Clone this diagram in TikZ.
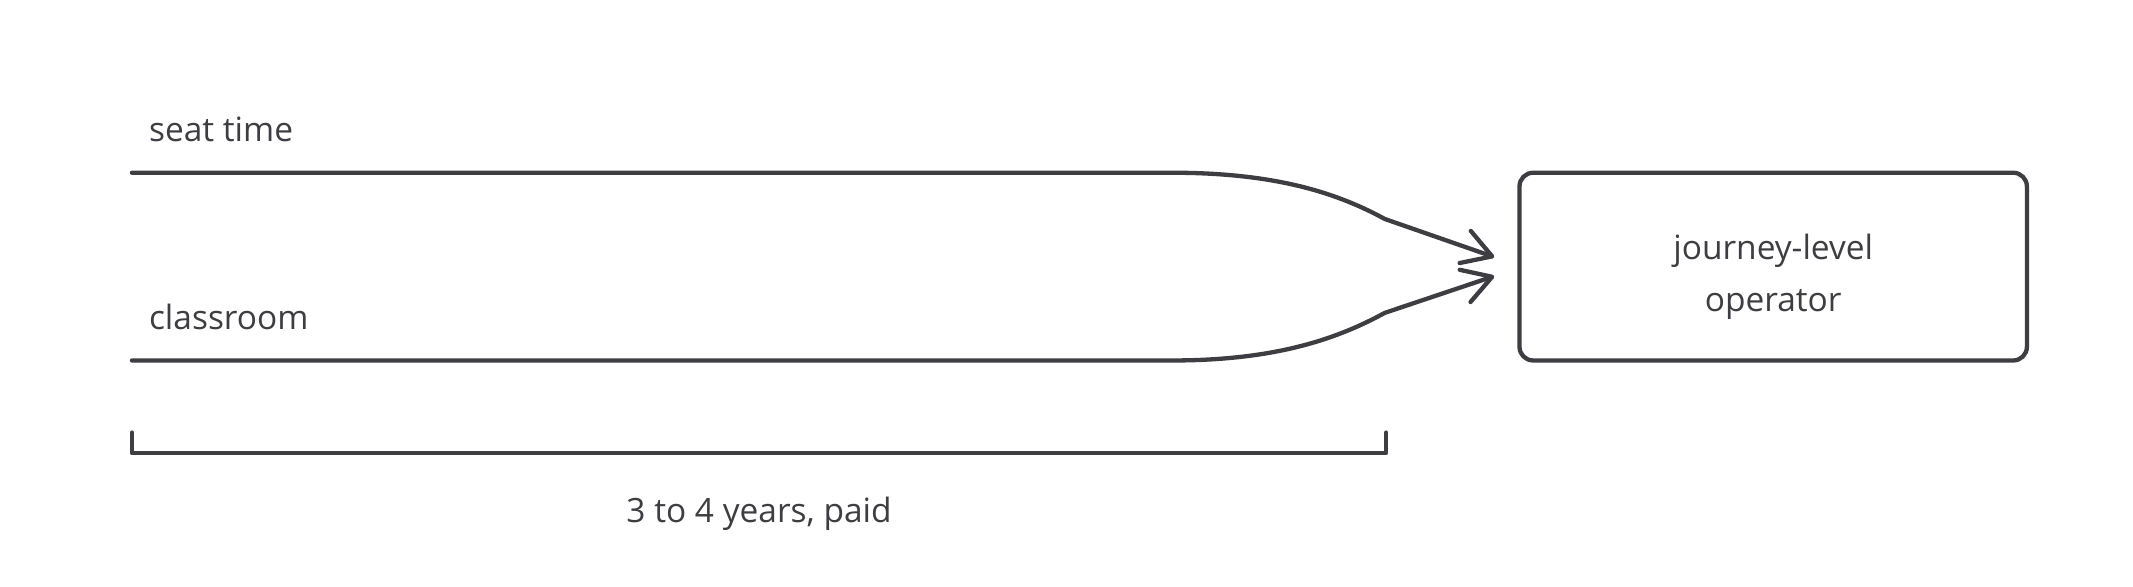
\documentclass[tikz,border=0pt]{standalone}
\usepackage{fontspec}
\setmainfont{Open Sans}
\usepackage{xcolor}
\usetikzlibrary{arrows.meta}
\definecolor{ink}{RGB}{61,61,66}

\begin{document}
\begin{tikzpicture}[x=0.1mm,y=-0.1mm,>={Straight Barb[round,length=2.1mm,width=2.5mm]},
		line width=0.9pt, line cap=round, line join=round, color=ink,
		every node/.style={text=ink, font=\fontsize{7}{9}\selectfont}]
				\useasboundingbox (0,0) rectangle (1568,431);
				%% ========================================================
				\node[draw, rounded corners=1mm, minimum width=37.3mm, minimum height=13.8mm, align=center, inner sep=0, font=\fontsize{7}{10.8}\selectfont] (operator) at (1303.5,196) {\rule{0pt}{3.4mm}journey-level\\operator};

				\node[anchor=base west, inner sep=0] (seat) at (108,104) {seat time};
				\node[anchor=base west, inner sep=0] (classroom) at (108,242) {classroom};

				\coordinate (seat start) at (97,127);
				\coordinate (seat bend) at (862,127);
				\coordinate (seat kink) at (1018,161);
				\coordinate (seat end) at ([xshift=-1.7mm,yshift=0.7mm]operator.west);

				\coordinate (class start) at (97,265);
				\coordinate (class bend) at (862,265);
				\coordinate (class kink) at (1018,230);
				\coordinate (class end) at ([xshift=-1.7mm,yshift=-0.7mm]operator.west);

				\draw[->] (seat start) -- (seat bend) .. controls (940,127) and (985,143) .. (seat kink) -- (seat end);
				\draw[->] (class start) -- (class bend) .. controls (940,265) and (985,248) .. (class kink) -- (class end);
				%% ========================================================

				%% ========================================================
				\begin{scope}% bracket
					\def\brleft{97}
					\def\brright{1019}
					\def\brtop{318}
					\def\brbase{333}
					\draw (\brleft,\brtop) -- (\brleft,\brbase) -- (\brright,\brbase) -- (\brright,\brtop);
					\node (span) at ({(\brleft+\brright)/2},378) {3 to 4 years, paid};
				\end{scope}
				%% ========================================================
			\end{tikzpicture}
\end{document}
